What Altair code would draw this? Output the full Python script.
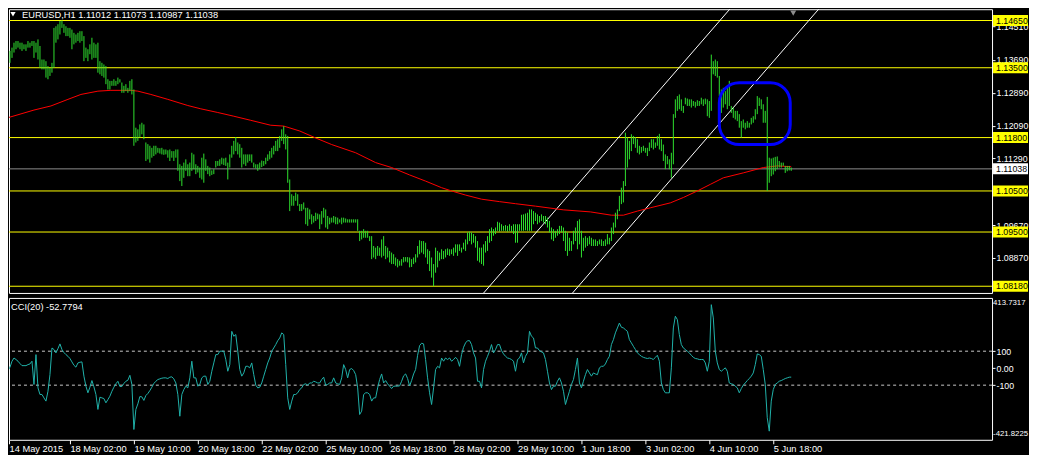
import altair as alt
import pandas as pd

FONT = "Liberation Sans"
FS = 9.3
FS_AX = 8.8
FS_EXT = 7.8

# ---- H1 bars (prices in 1e-4 units), bar index 0..393 ----
BAR_HIGH = [
    11387, 11383, 11391, 11399, 11411, 11415, 11415, 11411, 11411, 11407,
    11407, 11415, 11411, 11415, 11415, 11411, 11419, 11403, 11370, 11370,
    11366, 11354, 11350, 11362, 11447, 11451, 11456, 11464, 11465, 11456,
    11451, 11447, 11447, 11443, 11435, 11431, 11435, 11439, 11439, 11427,
    11399, 11395, 11407, 11423, 11411, 11407, 11411, 11366, 11362, 11358,
    11354, 11322, 11318, 11318, 11322, 11318, 11326, 11322, 11314, 11306,
    11310, 11301, 11318, 11322, 11297, 11204, 11200, 11212, 11216, 11212,
    11168, 11164, 11160, 11155, 11160, 11160, 11155, 11154, 11155, 11151,
    11151, 11149, 11151, 11147, 11147, 11151, 11151, 11115, 11111, 11119,
    11127, 11115, 11119, 11143, 11139, 11115, 11111, 11107, 11131, 11141,
    11127, 11111, 11107, 11100, 11103, 11123, 11123, 11127, 11131, 11129,
    11131, 11119, 11139, 11160, 11172, 11181, 11168, 11164, 11155, 11139,
    11139, 11139, 11139, 11139, 11119, 11115, 11115, 11119, 11124, 11123,
    11131, 11139, 11147, 11155, 11160, 11172, 11176, 11184, 11200, 11208,
    11188, 11184, 11078, 11042, 11038, 11046, 11042, 11018, 11018, 11022,
    11009, 11009, 11005, 10993, 10989, 10997, 10995, 10993, 11001, 11009,
    11005, 10989, 10985, 10985, 10989, 10987, 10985, 10981, 10985, 10985,
    10983, 10981, 10981, 10981, 10981, 10981, 10981, 10953, 10953, 10957,
    10953, 10953, 10940, 10940, 10916, 10912, 10916, 10912, 10932, 10940,
    10916, 10912, 10904, 10900, 10896, 10888, 10884, 10880, 10884, 10889,
    10889, 10889, 10888, 10884, 10888, 10896, 10916, 10930, 10928, 10928,
    10924, 10908, 10904, 10888, 10872, 10912, 10904, 10900, 10908, 10904,
    10908, 10910, 10908, 10908, 10912, 10920, 10920, 10920, 10912, 10924,
    10932, 10949, 10951, 10949, 10945, 10940, 10928, 10912, 10912, 10920,
    10928, 10940, 10957, 10961, 10957, 10961, 10975, 10973, 10969, 10965,
    10967, 10965, 10969, 10965, 10969, 10969, 10969, 10969, 10992, 10993,
    10995, 10997, 11005, 11005, 11001, 10997, 10993, 10989, 10993, 10989,
    10989, 10985, 10977, 10961, 10957, 10953, 10957, 10965, 10965, 10961,
    10953, 10949, 10936, 10928, 10953, 10961, 10977, 10981, 10953, 10936,
    10940, 10936, 10940, 10936, 10932, 10932, 10928, 10932, 10932, 10928,
    10932, 10945, 10936, 10961, 10973, 10997, 11005, 11038, 11058, 11074,
    11192, 11180, 11172, 11188, 11184, 11181, 11176, 11160, 11157, 11160,
    11155, 11155, 11168, 11176, 11176, 11168, 11184, 11189, 11176, 11163,
    11139, 11135, 11127, 11143, 11237, 11273, 11281, 11285, 11273, 11257,
    11277, 11275, 11273, 11273, 11269, 11267, 11271, 11269, 11277, 11273,
    11275, 11273, 11269, 11382, 11366, 11370, 11366, 11330, 11297, 11301,
    11293, 11301, 11318, 11257, 11253, 11245, 11245, 11237, 11220, 11224,
    11216, 11220, 11216, 11228, 11232, 11249, 11281, 11277, 11273, 11261,
    11245, 11279, 11131, 11129, 11131, 11133, 11134, 11123, 11119, 11119,
    11111, 11111, 11111, 11107,
]
BAR_LOW = [
    11342, 11358, 11362, 11374, 11387, 11395, 11399, 11395, 11391, 11395,
    11391, 11399, 11399, 11403, 11374, 11387, 11370, 11350, 11346, 11346,
    11326, 11322, 11330, 11338, 11350, 11411, 11419, 11431, 11447, 11435,
    11427, 11427, 11423, 11395, 11407, 11411, 11415, 11411, 11415, 11366,
    11374, 11366, 11383, 11370, 11374, 11374, 11338, 11334, 11330, 11326,
    11310, 11297, 11297, 11306, 11306, 11306, 11310, 11314, 11289, 11289,
    11293, 11289, 11293, 11285, 11160, 11168, 11172, 11180, 11188, 11176,
    11123, 11127, 11119, 11131, 11135, 11139, 11143, 11141, 11139, 11138,
    11139, 11131, 11123, 11131, 11123, 11131, 11099, 11074, 11062, 11082,
    11099, 11086, 11086, 11099, 11103, 11091, 11095, 11082, 11078, 11070,
    11099, 11091, 11086, 11089, 11091, 11107, 11111, 11111, 11115, 11113,
    11111, 11078, 11107, 11131, 11139, 11147, 11139, 11131, 11107, 11115,
    11111, 11119, 11123, 11119, 11107, 11105, 11099, 11103, 11108, 11111,
    11115, 11123, 11127, 11131, 11139, 11147, 11147, 11155, 11172, 11164,
    11151, 11070, 11001, 11014, 11014, 11026, 11014, 11001, 11001, 11005,
    10969, 10965, 10981, 10969, 10973, 10977, 10981, 10957, 10969, 10985,
    10961, 10957, 10969, 10973, 10973, 10969, 10969, 10973, 10969, 10973,
    10973, 10973, 10973, 10973, 10973, 10973, 10953, 10928, 10932, 10936,
    10936, 10936, 10928, 10884, 10888, 10884, 10892, 10892, 10888, 10892,
    10884, 10888, 10876, 10872, 10872, 10868, 10864, 10868, 10868, 10876,
    10878, 10876, 10864, 10865, 10872, 10876, 10888, 10896, 10900, 10896,
    10888, 10872, 10855, 10839, 10818, 10851, 10864, 10880, 10884, 10884,
    10888, 10894, 10892, 10896, 10892, 10900, 10892, 10904, 10900, 10908,
    10904, 10920, 10928, 10920, 10924, 10912, 10880, 10876, 10872, 10868,
    10900, 10904, 10924, 10928, 10941, 10945, 10953, 10951, 10953, 10953,
    10953, 10951, 10953, 10951, 10945, 10924, 10924, 10953, 10953, 10953,
    10954, 10953, 10953, 10953, 10969, 10977, 10969, 10973, 10977, 10973,
    10969, 10961, 10949, 10932, 10928, 10936, 10941, 10945, 10949, 10928,
    10904, 10892, 10904, 10904, 10920, 10928, 10908, 10920, 10888, 10904,
    10912, 10916, 10920, 10916, 10916, 10916, 10916, 10920, 10916, 10916,
    10916, 10920, 10920, 10928, 10945, 10961, 10981, 11001, 11018, 11022,
    11062, 11107, 11127, 11147, 11164, 11155, 11143, 11139, 11143, 11147,
    11143, 11135, 11147, 11155, 11151, 11155, 11160, 11151, 11147, 11123,
    11103, 11115, 11103, 11082, 11115, 11228, 11245, 11249, 11245, 11240,
    11261, 11257, 11257, 11253, 11257, 11253, 11257, 11257, 11261, 11257,
    11261, 11232, 11228, 11245, 11334, 11330, 11326, 11281, 11240, 11253,
    11261, 11249, 11257, 11240, 11228, 11224, 11220, 11204, 11180, 11204,
    11200, 11204, 11204, 11212, 11216, 11224, 11237, 11257, 11249, 11216,
    11216, 11050, 11070, 11086, 11090, 11098, 11103, 11107, 11107, 11111,
    11094, 11098, 11100, 11099,
]
# ---- CCI(20) per bar ----
CCI_VALUES = [
    -37, -14, 6, 41, 60, 51, 41, 27, 15, 15,
    15, 21, 25, 41, -96, 80, -116, -155, -155, -175,
    -194, -136, -38, 119, 110, 90, 115, 143, 110, 92,
    80, 70, 57, 37, 17, 6, 31, 35, 37, -47,
    -106, -145, -112, -73, -110, -155, -243, -171, -175, -179,
    -204, -185, -165, -136, -112, -92, -77, -108, -108, -90,
    -77, -71, -42, -96, -361, -243, -210, -167, -169, -190,
    -161, -149, -132, -112, -90, -77, -67, -63, -59, -57,
    -57, -61, -53, -51, -63, -87, -155, -283, -155, -126,
    -106, -116, -57, 41, -57, -57, -106, -96, -57, -47,
    -47, -96, -77, -18, 31, 80, 80, 100, 100, 100,
    51, -18, 21, 217, 188, 198, 100, -8, -47, -28,
    11, 11, 2, 31, -38, -100, -116, -112, -87, -47,
    -8, 31, 60, 100, 119, 139, 162, 178, 208, 198,
    21, -175, -243, -194, -155, -155, -145, -126, -116, -96,
    -92, -100, -87, -87, -77, -81, -87, -87, -67, -53,
    -100, -96, -87, -87, -57, -87, -92, -96, -57, 21,
    -8, -57, -8, -2, -14, -38, -116, -273, -253, -155,
    -145, -145, -155, -194, -175, -175, -116, -67, -34, -87,
    -73, -92, -106, -120, -106, -106, -106, -104, -77, -45,
    -34, -61, -104, -73, -34, -8, 76, 133, 147, 143,
    51, -57, -145, -214, -116, -8, 11, 2, 60, 41,
    60, 51, 60, 41, 51, 64, 51, 11, 80, 123,
    149, 162, 162, 139, 90, 60, -77, -77, -116, -8,
    41, 70, 100, 139, 90, 110, 139, 139, 104, 84,
    70, 60, 57, 51, 41, -18, 51, 60, 90, 31,
    70, 90, 217, 188, 178, 119, 119, 104, 96, 90,
    51, -18, -87, -126, -106, -106, -77, -57, -87, -136,
    -214, -175, -136, -96, -67, -8, 60, -87, -116, -77,
    -38, -8, -28, -47, -28, -34, -38, 2, 11, 11,
    25, 51, 70, 139, 168, 208, 237, 266, 241, 237,
    227, 217, 168, 149, 129, 110, 90, 80, 70, 64,
    60, 57, 60, 57, 51, 64, 76, 41, -87, -126,
    -145, -145, -145, 2, 237, 306, 286, 198, 139, 119,
    110, 100, 90, 76, 64, 57, 55, 51, 51, 51,
    31, -18, 41, 374, 296, 100, 31, -8, -18, -8,
    2, -18, -87, -92, -96, -106, -116, -145, -120, -100,
    -87, -73, -61, -47, -28, 21, 84, 80, 70, -8,
    -96, -292, -371, -194, -126, -96, -87, -77, -73, -67,
    -61, -57, -53, -52.7794,
]
# ---- moving average (red), read at these bars, prices in 1e-4 units ----
MA_BAR = [0, 14, 22.5, 31, 37.5, 46, 52.5, 62.5, 66, 72.5, 81, 91, 97.5, 106, 114,
          122.5, 132.5, 139, 147, 155, 163, 175, 185, 193, 202, 210, 218, 223, 230,
          238, 247, 255, 265, 279, 292.5, 303, 309, 316, 322.5, 332.5, 339, 346,
          352.5, 359, 369, 379, 386, 393]
MA_VAL = [11227, 11247, 11257, 11273, 11285, 11293, 11295, 11295, 11293, 11285, 11273,
          11258, 11250, 11241, 11232, 11222, 11210, 11208, 11196, 11179, 11163, 11143,
          11119, 11107, 11089, 11074, 11058, 11050, 11040, 11030, 11024, 11019, 11013,
          11004, 10999, 10991, 10991, 11001, 11009, 11021, 11034, 11050, 11066, 11082,
          11094, 11107, 11111, 11109]

LEVEL_PRICES = [1.1465, 1.1350, 1.1180, 1.1050, 1.0950, 1.0818]
LEVEL_TEXT = ["1.14650", "1.13500", "1.11800", "1.10500", "1.09500", "1.08180"]
LAST_PRICE = [1.11038]
LAST_TEXT = ["1.11038"]
PRICE_TICKS = [1.1451, 1.1369, 1.1289, 1.1209, 1.1129, 1.1049, 1.0967, 1.0887]

TIME_BARS = [1.5, 32, 64, 96, 128, 160, 192, 224, 256, 288, 320, 352, 384]
TIME_TEXT = ["14 May 2015", "18 May 02:00", "19 May 10:00", "20 May 18:00",
             "22 May 02:00", "25 May 10:00", "26 May 18:00", "28 May 02:00",
             "29 May 10:00", "1 Jun 18:00", "3 Jun 02:00", "4 Jun 10:00",
             "5 Jun 18:00"]

CHANNEL_ID = ["a", "a", "b", "b"]
CHANNEL_BAR = [220, 380, 260, 420]
CHANNEL_PRICE = [1.06947, 1.15923, 1.06695, 1.15671]

BOX_BAR = [357, 392.5]
BOX_PRICE = [1.13137, 1.11629]

CCI_LEVELS = [100, -100]
CCI_MAX_TEXT = "413.7317"
CCI_MIN_TEXT = "-421.8225"
HEADER = "EURUSD,H1  1.11012 1.11073 1.10987 1.11038"
CCI_HEADER = "CCI(20) -52.7794"

# ---------------------------------------------------------------
W, H1, H2 = 984, 284, 142
LBL_X = 988          # left edge of right-hand labels (page is 1021px wide)
n = min(len(BAR_HIGH), len(BAR_LOW), len(CCI_VALUES))
bars_df = pd.DataFrame({
    "bar": list(range(n)),
    "high": [v / 10000 for v in BAR_HIGH[:n]],
    "low": [v / 10000 for v in BAR_LOW[:n]],
    "cci": CCI_VALUES[:n],
})
ma_df = pd.DataFrame({"bar": MA_BAR, "price": [v / 10000 for v in MA_VAL]})
lvl_df = pd.DataFrame({"price": LEVEL_PRICES, "label": LEVEL_TEXT})
last_df = pd.DataFrame({"price": LAST_PRICE, "label": LAST_TEXT})
chan_df = pd.DataFrame({"line": CHANNEL_ID, "bar": CHANNEL_BAR, "price": CHANNEL_PRICE})
box_df = pd.DataFrame({"x1": [BOX_BAR[0]], "x2": [BOX_BAR[1]],
                       "y1": [BOX_PRICE[0]], "y2": [BOX_PRICE[1]]})
cci_lvl_df = pd.DataFrame({"v": CCI_LEVELS})

XS = alt.Scale(domain=[1.5, 493.5], nice=False, zero=False)
YS = alt.Scale(domain=[1.08017, 1.14925], nice=False, zero=False)
YCS = alt.Scale(domain=[-421.8225, 413.7317], nice=False, zero=False)

YAX = alt.Axis(orient="right", values=PRICE_TICKS, format=".5f", title=None,
               tickSize=3, labelPadding=1, domain=False, grid=False,
               labelOverlap=False, labelFlush=False, labelFontSize=FS_AX)
cci_expr = "datum.value == 100 ? '100' : (datum.value == 0 ? '0.00' : '-100')"
YCAX = alt.Axis(orient="right", values=[100, 0, -100], labelExpr=cci_expr, title=None,
                tickSize=3, labelPadding=1, domain=False, grid=False,
                labelOverlap=False, labelFlush=False, labelFontSize=FS_AX)
texpr = "''"
for v, lab in reversed(list(zip(TIME_BARS, TIME_TEXT))):
    texpr = f"datum.value == {v} ? '{lab}' : ({texpr})"
XAX = alt.Axis(orient="bottom", values=TIME_BARS, labelExpr=texpr, title=None,
               tickSize=4, labelPadding=1, labelAlign="left", labelFlush=False,
               labelOverlap=False, domain=False, grid=False, labelFontSize=FS)


def X(f):
    return alt.X(f, type="quantitative", scale=XS, axis=None)


def Y(f):
    return alt.Y(f, type="quantitative", scale=YS, axis=YAX)


levels = alt.Chart(lvl_df).mark_rule(color="#ffff00", strokeWidth=1).encode(y=Y("price"))
lastline = alt.Chart(last_df).mark_rule(color="#8c8c8c", strokeWidth=1).encode(y=Y("price"))
bars = alt.Chart(bars_df).mark_rule(color="#2ee02e", strokeWidth=1, clip=True).encode(
    x=X("bar"), y=Y("low"), y2="high")
ma = alt.Chart(ma_df).mark_line(color="#ff0000", strokeWidth=1, clip=True).encode(
    x=X("bar"), y=Y("price"))
chan = alt.Chart(chan_df).mark_line(color="#ffffff", strokeWidth=1, clip=True).encode(
    x=X("bar"), y=Y("price"), detail="line:N")
box = alt.Chart(box_df).mark_rect(stroke="#0000ff", strokeWidth=3, fillOpacity=0,
                                  cornerRadius=20).encode(
    x=X("x1"), x2="x2", y=Y("y1"), y2="y2")
lvl_box = alt.Chart(lvl_df).mark_tick(orient="horizontal", size=35, thickness=11,
                                      color="#ffff00", opacity=1).encode(
    x=alt.value(1002.5), y=Y("price"))
lvl_txt = alt.Chart(lvl_df).mark_text(align="left", baseline="middle", color="#000000",
                                      font=FONT, fontSize=FS_AX).encode(
    x=alt.value(LBL_X), y=Y("price"), text="label:N")
last_box = alt.Chart(last_df).mark_tick(orient="horizontal", size=35, thickness=11,
                                        color="#ffffff", opacity=1).encode(
    x=alt.value(1002.5), y=Y("price"))
last_txt = alt.Chart(last_df).mark_text(align="left", baseline="middle", color="#000000",
                                        font=FONT, fontSize=FS_AX).encode(
    x=alt.value(LBL_X), y=Y("price"), text="label:N")
header = alt.Chart(pd.DataFrame({"t": [HEADER]})).mark_text(
    align="left", baseline="middle", color="#ffffff", font=FONT, fontSize=FS).encode(
    x=alt.value(13), y=alt.value(5.5), text="t:N")
tri = alt.Chart(pd.DataFrame({"t": [1]})).mark_point(
    shape="triangle-down", filled=True, color="#ffffff", size=28, opacity=1).encode(
    x=alt.value(4), y=alt.value(5))
shift_tri = alt.Chart(pd.DataFrame({"t": [1]})).mark_point(
    shape="triangle-down", filled=True, color="#8c8c8c", size=36, opacity=1).encode(
    x=alt.value(785), y=alt.value(4))

top = alt.layer(levels, lastline, chan, ma, bars, box, lvl_box, lvl_txt,
                last_box, last_txt, header, tri, shift_tri).properties(width=W, height=H1)

cci_lv = alt.Chart(cci_lvl_df).mark_rule(color="#c8c8c8", strokeWidth=1,
                                         strokeDash=[3, 3]).encode(
    y=alt.Y("v:Q", scale=YCS, axis=YCAX))
cci_line = alt.Chart(bars_df).mark_line(color="#20b2aa", strokeWidth=1, clip=True).encode(
    x=alt.X("bar:Q", scale=XS, axis=XAX),
    y=alt.Y("cci:Q", scale=YCS, axis=YCAX))
cci_max = alt.Chart(pd.DataFrame({"t": [CCI_MAX_TEXT]})).mark_text(
    align="left", baseline="middle", color="#ffffff", font=FONT, fontSize=FS_EXT).encode(
    x=alt.value(985), y=alt.value(5), text="t:N")
cci_min = alt.Chart(pd.DataFrame({"t": [CCI_MIN_TEXT]})).mark_text(
    align="left", baseline="middle", color="#ffffff", font=FONT, fontSize=FS_EXT).encode(
    x=alt.value(985), y=alt.value(136), text="t:N")
cci_head = alt.Chart(pd.DataFrame({"t": [CCI_HEADER]})).mark_text(
    align="left", baseline="middle", color="#ffffff", font=FONT, fontSize=FS).encode(
    x=alt.value(2), y=alt.value(9), text="t:N")

bottom = alt.layer(cci_lv, cci_line, cci_max, cci_min, cci_head).properties(
    width=W, height=H2)

chart = alt.vconcat(top, bottom, spacing=3).properties(
    padding=0, background="#000000"
).configure_view(
    stroke="#ffffff", strokeWidth=1
).configure_axis(
    labelFont=FONT, labelColor="#ffffff", tickColor="#ffffff"
)

chart.save("out.html", embed_options={"renderer": "svg", "actions": False})
